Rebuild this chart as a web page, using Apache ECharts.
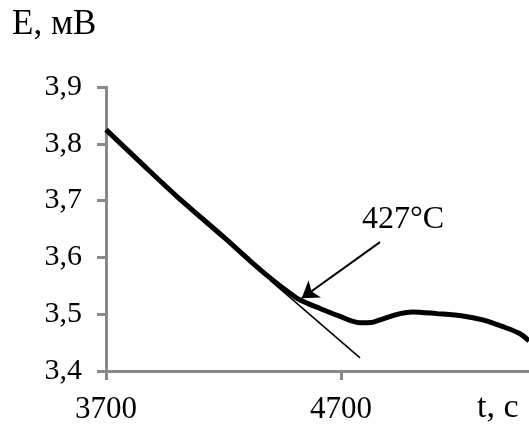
<!DOCTYPE html>
<html>
<head>
<meta charset="utf-8">
<script src="https://cdn.jsdelivr.net/npm/echarts@6/dist/echarts.min.js"></script>
<style>
html,body{margin:0;padding:0;background:#fff;}
#chart{width:529px;height:425px;}
</style>
</head>
<body>
<div id="chart"></div>
<script>
// Time, s
const timeSec = [3700, 3850, 4000, 4200, 4313, 4398, 4483, 4526, 4611, 4696, 4781, 4836, 4866, 4951, 5004, 5107, 5218, 5303, 5389, 5460, 5500];
// EMF, mV
const emfMv = [3.825, 3.766, 3.708, 3.636, 3.594, 3.564, 3.537, 3.525, 3.510, 3.496, 3.485, 3.486, 3.490, 3.501, 3.504, 3.501, 3.497, 3.490, 3.478, 3.466, 3.453];
// Tangent line endpoints
const tangentT = [4400, 4781];
const tangentE = [3.559, 3.423];
// Arrow (from label to tangent point)
const arrowFrom = [4866, 3.627];
const arrowTo = [4533, 3.528];
const xTicks = [3700, 4700];
const annotationText = '427°C';
const yTitle = 'E, мВ';
const xTitle = 't, c';

const FONT = '"Liberation Serif", "Times New Roman", serif';
const AX = '#898989';

const chart = echarts.init(document.getElementById('chart'), null, {renderer: 'canvas'});
chart.setOption({
  animation: false,
  backgroundColor: '#fff',
  grid: {left: 106, top: 87, right: 0, bottom: 52, containLabel: false},
  xAxis: {
    type: 'value', min: 3700, max: 5500,
    axisLine: {show: true, lineStyle: {color: AX, width: 3}},
    axisTick: {show: true, length: 9, lineStyle: {color: AX, width: 3}, customValues: xTicks},
    axisLabel: {customValues: xTicks, color: '#000', fontFamily: FONT, fontSize: 31, margin: 23,
      formatter: v => String(v)},
    splitLine: {show: false}
  },
  yAxis: {
    type: 'value', min: 3.4, max: 3.9, interval: 0.1,
    axisLine: {show: true, lineStyle: {color: AX, width: 3}},
    axisTick: {show: true, length: 9, lineStyle: {color: AX, width: 3}},
    axisLabel: {color: '#000', fontFamily: FONT, fontSize: 30, margin: 24,
      formatter: v => v.toFixed(1).replace('.', ',')},
    splitLine: {show: false}
  },
  series: [
    {
      type: 'line', name: 'tangent', symbol: 'none', silent: true,
      data: tangentT.map((t, i) => [t, tangentE[i]]),
      lineStyle: {color: '#000', width: 1.5},
      markLine: {
        silent: true, symbol: ['none', 'arrow'], symbolSize: 16,
        label: {show: false},
        emphasis: {disabled: true},
        lineStyle: {color: '#000', width: 2, type: 'solid'},
        itemStyle: {color: '#000'},
        data: [[{coord: arrowFrom}, {coord: arrowTo}]]
      }
    },
    {
      type: 'line', name: 'E', symbol: 'none', smooth: 0.3, silent: true,
      data: timeSec.map((t, i) => [t, emfMv[i]]),
      lineStyle: {color: '#000', width: 5}
    }
  ],
  graphic: [
    {type: 'text', left: 12, top: 7, style: {text: yTitle, font: '35px ' + FONT, fill: '#000'}},
    {type: 'text', left: 477, top: 391, style: {text: xTitle, font: '34px ' + FONT, fill: '#000'}},
    {type: 'text', left: 362, top: 204, style: {text: annotationText, font: '32px ' + FONT, fill: '#000'}}
  ]
});
</script>
</body>
</html>
